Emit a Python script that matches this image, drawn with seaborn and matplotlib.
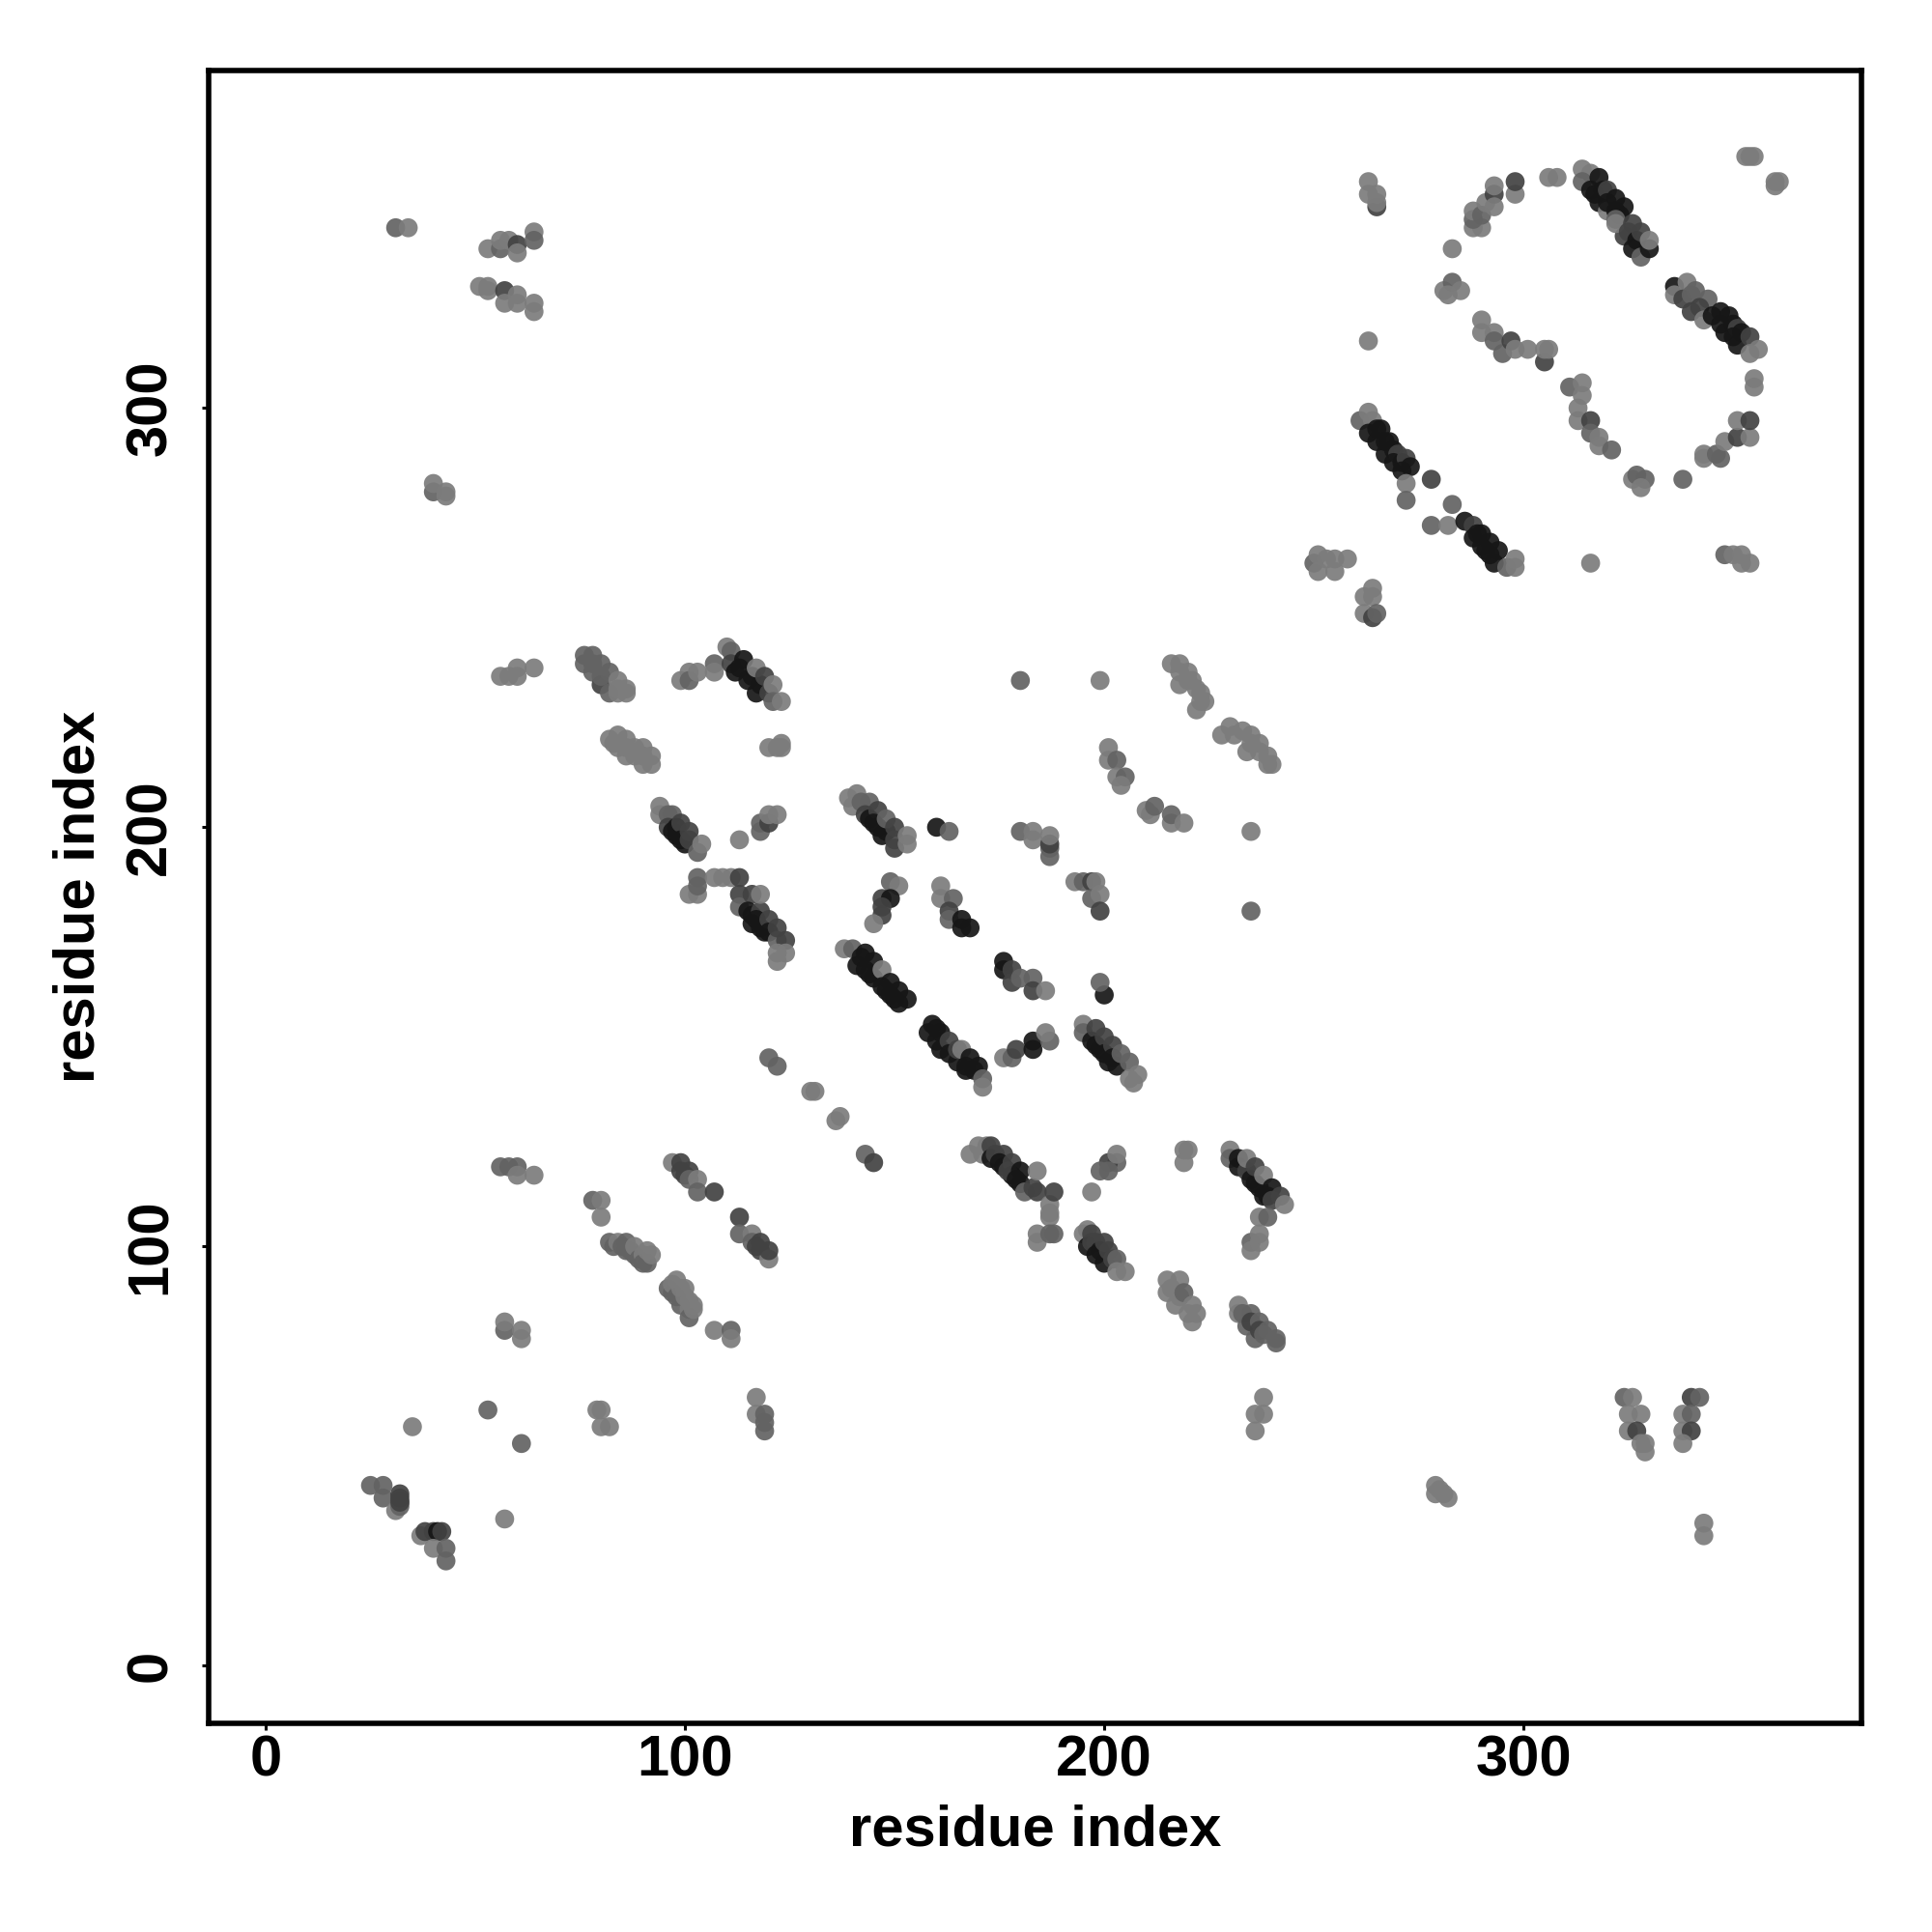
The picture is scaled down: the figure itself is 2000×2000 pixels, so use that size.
import pandas as pd
import matplotlib
matplotlib.use("Agg")
import matplotlib.pyplot as plt
import seaborn as sns

# contacts as (residue, residue, strength), strength 1 = weak ... 4 = strong
# listed in drawing order, later points sit on top
low_left = [
    (25,43,2),(28,43,2),(28,40,2),(31,37,1),(32,38,2),(32,39,2),(32,40,3),(32,41,3),(32,39,3),
    (37,31,1),(38,32,3),(40,32,3),(41,32,4),(42,32,3),(40,28,1),(43,28,2),(43,25,2),
    (57,35,1),(35,57,1),(53,61,2),(61,53,2),(79,61,1),(80,61,1),(80,57,1),(82,57,1),
    (117,64,1),(117,60,1),(119,60,2),(119,58,2),(119,56,2),
    (57,80,2),(57,82,1),(61,78,1),(61,80,1),
    (56,119,2),(58,119,2),(60,119,2),(60,117,1),(64,117,1),
    (78,111,2),(80,111,1),(80,107,1),
    (82,101,2),(83,100,2),(84,101,1),(85,100,2),(86,99,2),(86,101,2),(87,99,2),(88,98,2),(88,100,1),(89,97,2),(90,98,1),(90,96,2),(91,96,2),(91,99,1),(92,98,1),
    (96,90,2),(97,89,2),(97,91,1),(98,92,1),(98,88,2),(99,90,1),(99,86,2),(100,90,1),(100,88,1),(101,85,1),(101,87,1),(101,83,2),(102,85,1),(102,86,1),
    (107,80,1),(111,80,2),(111,78,1),
    (97,120,1),(99,120,3),(99,118,3),(101,118,3),(100,117,3),(101,116,2),(103,116,1),(103,113,2),(107,113,3),
    (113,107,3),(113,103,2),(116,103,1),(116,101,2),(118,101,3),(117,100,3),(118,99,3),(120,97,1),(120,99,3),
]

low_middle = [
    (143,122,2),(145,120,3),
    (168,122,1),(170,124,1),(172,124,1),(171,122,1),(173,124,3),(173,121,4),(174,122,3),(176,122,3),(176,119,4),(175,120,4),(178,120,3),(178,117,4),(177,118,3),
    (180,118,4),(180,115,4),(179,116,4),(181,113,2),(184,113,3),(183,114,3),(184,118,1),(187,110,1),(187,108,1),(187,107,1),(188,113,3),
    (184,103,1),(184,101,1),(187,103,2),(188,103,2),
    (203,120,2),(201,120,3),(199,118,2),(201,118,2),(203,122,1),(197,113,1),
    (195,103,1),(196,104,1),(197,103,3),(196,100,4),(198,101,3),(197,101,3),(198,98,4),(199,99,4),(200,101,3),(200,96,4),(201,99,3),(202,97,3),(203,97,2),(203,94,1),(205,94,1),
    (215,92,1),(215,89,1),(216,90,1),(217,86,1),(218,92,1),(218,88,1),(219,89,2),(220,84,1),(221,86,1),(221,82,1),(222,84,1),
    (232,86,1),(232,84,1),(233,84,2),(234,81,2),(235,84,2),(235,82,3),(236,78,2),(237,82,2),(237,80,3),(238,79,2),(239,80,2),(241,78,2),(241,77,2),
    (230,123,1),(230,121,2),(232,121,4),(232,119,4),(234,118,3),(234,121,1),(235,116,4),(236,115,4),(236,119,3),(237,114,4),(238,112,4),(238,117,1),(239,112,4),(240,114,4),(240,111,3),(242,112,3),(243,110,1),
    (237,107,1),(239,107,2),(235,101,2),(237,103,1),(235,99,1),(237,101,1),
    (219,120,1),(219,123,1),(220,123,1),
    (238,64,1),(236,60,1),(238,60,1),(236,56,1),
]

centre_left = [
    (76,241,2),(78,241,2),(76,239,2),(78,239,2),(78,237,2),(80,239,2),(80,234,3),(80,236,2),(82,237,2),(82,232,2),(84,235,1),(84,233,1),(86,233,1),(86,232,1),(84,232,1),
    (82,221,1),(84,222,1),(83,220,1),(86,221,1),(84,219,1),(86,219,1),(88,219,1),(86,217,1),(88,217,1),(90,219,1),(90,215,1),(90,217,1),(92,217,1),(92,215,1),
    (99,235,1),(101,237,1),(101,235,2),(103,237,1),(107,239,2),(107,237,1),
    (110,243,1),(111,242,2),(111,239,3),(112,237,4),(113,238,4),(114,240,4),(115,235,4),(116,236,4),(117,232,4),(118,234,4),(117,238,1),(119,236,3),(120,232,3),(121,234,1),(121,230,2),(123,230,1),
    (120,219,1),(122,219,1),(123,220,1),(123,219,1),
    (94,205,1),(94,203,1),(96,203,2),(97,203,2),(96,200,3),(97,199,4),(98,198,4),(98,200,4),(99,201,3),(99,197,4),(100,196,4),(101,199,3),(101,197,3),(103,194,2),(104,196,1),
    (113,197,1),(118,199,2),(118,201,2),(120,201,3),(120,203,1),(122,203,1),
    (101,184,1),(103,184,1),(103,186,2),(103,188,2),(107,188,1),(109,188,1),(111,188,1),(113,188,3),(113,184,3),(113,181,2),
    (116,184,3),(115,180,4),(116,179,4),(118,180,3),(117,178,4),(116,177,4),(118,176,4),(119,175,4),(120,178,3),(120,175,4),(122,173,2),(122,176,3),(124,173,3),
    (122,170,1),(124,170,1),(122,168,1),(118,184,1),
    (120,145,2),(122,143,2),(130,137,1),(131,137,1),(136,130,1),(137,131,1),
]

centre_right = [
    (139,207,1),(141,208,1),(140,205,1),(142,206,2),(144,206,2),(143,203,3),(144,202,4),(146,204,3),(145,201,4),(146,200,4),(147,198,4),(148,199,4),(148,202,2),(150,195,3),(150,197,3),(150,200,3),(153,198,1),(153,196,1),
    (160,200,4),(163,199,2),
    (149,187,2),(151,186,1),(147,183,3),(149,183,4),(147,179,3),(145,177,1),(147,181,3),
    (161,186,1),(161,183,1),(164,183,2),(163,180,3),(163,178,2),(166,178,4),(166,176,4),(168,176,4),
    (138,171,1),(140,171,2),(142,169,4),(143,170,4),(145,168,4),(141,167,4),(143,166,4),(144,165,4),(145,164,4),(147,166,1),(147,162,4),(149,163,4),(148,161,4),(149,160,4),(151,161,4),(151,158,4),(150,159,4),(153,159,4),
    (159,153,4),(158,151,4),(160,152,4),(161,151,4),(161,147,4),(160,149,4),(163,149,3),(163,146,4),(165,144,4),(165,147,3),(166,147,1),(168,145,4),(167,143,4),(167,142,4),(169,142,4),(170,143,4),(171,140,2),(171,138,1),
    (176,168,4),(176,166,4),(178,166,3),(178,163,3),(180,164,2),(183,164,2),(183,161,3),(186,161,1),
    (200,160,4),(199,163,2),
    (176,145,1),(178,145,2),(179,147,3),(183,147,4),(183,149,4),(187,149,2),(186,151,1),
    (180,235,2),(199,235,1),(180,199,2),(183,199,1),(183,197,1),(187,193,2),(187,195,2),(187,196,3),(187,198,1),
    (193,187,1),(195,187,2),(197,187,3),(198,187,1),(197,183,2),(199,184,1),(199,180,3),
    (195,153,1),(195,151,2),(197,149,4),(198,152,3),(198,148,4),(199,147,4),(200,150,3),(200,146,4),(201,144,4),(202,148,3),(203,143,4),(202,145,4),(204,146,2),(206,144,2),(206,140,1),(207,139,1),(208,141,1),
    (216,239,1),(218,239,1),(218,234,1),(218,237,1),(220,237,1),(220,235,1),(221,235,1),(222,233,1),(222,228,1),(223,232,1),(223,230,1),(224,230,1),
    (228,222,1),(230,224,1),(231,222,1),(233,223,1),(234,218,1),(235,222,1),(235,220,1),(237,220,1),(237,218,1),(239,217,1),(239,215,1),(240,215,1),
    (201,219,1),(201,216,1),(203,216,2),(203,212,1),(205,212,2),(204,210,1),
    (210,204,1),(211,203,1),(212,205,2),(216,201,1),(216,203,2),(219,201,1),
    (235,199,1),(235,180,2),
]

up_right = [
    (353,360,1),(354,360,1),(355,360,1),(360,354,1),(360,353,1),(361,354,1),
    (265,348,3),(263,354,1),(263,351,1),(265,351,1),(265,349,1),
    (288,343,1),(290,343,1),(288,345,2),(288,347,1),(290,346,2),(291,349,1),(293,351,3),(293,348,1),(293,353,1),(298,351,1),(298,354,3),
    (283,338,1),(281,328,1),(283,330,2),(285,328,1),(282,327,1),
    (263,316,1),
    (290,321,1),(290,318,1),(293,318,1),(293,316,2),(295,313,2),(297,316,3),(298,314,1),(301,314,1),(305,311,3),(305,314,1),(306,314,1),
    (306,355,1),(308,355,1),
    (314,357,1),(316,356,1),(314,354,2),(316,352,4),(317,351,4),(318,355,4),(318,349,4),(319,352,4),(320,347,1),(320,352,3),(320,349,4),(322,350,4),(322,347,4),(324,348,4),(323,346,4),(322,345,2),(324,341,3),(322,344,1),
    (326,344,3),(325,342,3),(326,338,4),(327,340,4),(328,342,3),(328,336,2),(330,338,4),(330,340,1),
    (336,329,4),(336,327,1),(339,330,1),(338,326,3),(340,327,2),(341,328,2),(344,326,2),(342,324,3),(340,323,3),(343,321,1),(345,322,4),(347,323,4),(347,320,4),(349,322,4),(348,318,4),(350,320,4),(351,319,3),(350,317,4),(352,318,4),(351,315,4),(354,317,3),(354,313,1),(356,314,1),
    (355,307,1),(355,305,1),
    (311,305,2),(314,306,1),(314,303,1),(313,300,1),(313,297,1),(316,297,3),(316,294,2),(318,293,1),(318,291,1),(321,290,2),
    (326,283,1),(327,284,2),(329,283,2),(328,281,1),(338,283,2),
    (343,289,1),(343,288,1),(346,289,2),(347,288,2),(348,292,1),(351,293,3),(354,293,1),(351,297,1),(354,297,3),
    (348,265,2),(350,265,1),(352,265,1),(352,263,1),(354,263,1),(316,263,1),
]

mid_right = [
    (261,297,2),(263,299,1),(264,297,1),(263,294,4),(265,295,4),(266,295,4),(265,292,4),(267,292,4),(268,292,4),(267,289,4),(269,290,4),(270,289,3),(269,287,4),(271,287,4),(272,288,3),(271,285,4),(273,286,4),
    (272,282,1),(272,278,2),(278,283,3),(283,277,2),(278,272,2),(282,272,1),
    (286,273,4),(288,272,3),(288,269,4),(289,270,4),(290,270,4),(290,267,4),(292,268,4),(291,266,4),(292,265,4),(294,266,4),(293,263,4),(296,262,2),(298,264,1),(298,262,1),
    (250,263,2),(251,265,1),(251,261,1),(253,264,1),(255,264,1),(255,261,1),(258,264,1),
    (264,257,1),(262,255,1),(264,255,1),(262,251,1),(264,250,3),(265,251,2),
]

top_left = [
    (31,343,2),(34,343,1),(53,338,1),(56,338,2),(56,340,1),(58,340,1),(60,339,3),(60,337,1),(64,342,1),(64,340,2),
    (51,329,1),(53,329,1),(53,328,1),(57,328,3),(57,325,1),(60,327,1),(60,325,1),(64,325,1),(64,323,1),
    (40,280,2),(40,282,1),(43,280,1),(43,279,1),
    (56,236,1),(58,236,1),(60,238,1),(60,236,1),(64,238,1),
]

low_right = [
    (324,64,2),(326,64,1),(325,60,1),(328,60,1),(325,56,1),(327,56,3),(328,53,1),(329,53,1),(329,51,1),
    (340,64,3),(342,64,2),(338,60,1),(340,60,2),(338,56,1),(340,56,3),(338,53,1),
    (343,34,1),(343,31,1),(279,43,1),(280,42,1),(281,41,1),(282,40,1),(279,41,1),
]

tick_values = [0, 100, 200, 300]
axis_label = "residue index"

strength_colors = {1: "#7c7c7c", 2: "#636363", 3: "#424242", 4: "#161616"}

rows = low_left + low_middle + centre_left + centre_right + up_right + mid_right + top_left + low_right
df = pd.DataFrame(rows, columns=["res_a", "res_b", "strength"])

sns.set_style("white")
plt.rcParams["font.family"] = ["Liberation Sans", "DejaVu Sans"]

fig = plt.figure(figsize=(10, 10), dpi=200)
ax = fig.add_axes([0.108, 0.108, 0.8555, 0.8557])

sns.scatterplot(data=df, x="res_a", y="res_b", hue="strength", palette=strength_colors,
                s=50, linewidth=0, alpha=0.92, legend=False, ax=ax)

ax.set_xlim(-13.6, 380.6)
ax.set_ylim(-13.75, 380.6)
ax.set_xticks(tick_values)
ax.set_yticks(tick_values)
ax.set_xticklabels(tick_values, fontsize=21.5, fontweight="bold", color="black")
ax.set_yticklabels(tick_values, fontsize=21.5, fontweight="bold", color="black", rotation=90, va="center")
ax.tick_params(axis="x", length=2.6, width=1.1, color="black", pad=1.5, bottom=True)
ax.tick_params(axis="y", length=2.6, width=1.1, color="black", pad=9, left=True)
ax.set_xlabel(axis_label, fontsize=21.5, fontweight="bold", color="black", labelpad=6)
ax.set_ylabel(axis_label, fontsize=21.5, fontweight="bold", color="black", labelpad=7)
for side in ax.spines.values():
    side.set_linewidth(2)
    side.set_color("black")

fig.savefig("out.png", dpi=200, facecolor="white")
